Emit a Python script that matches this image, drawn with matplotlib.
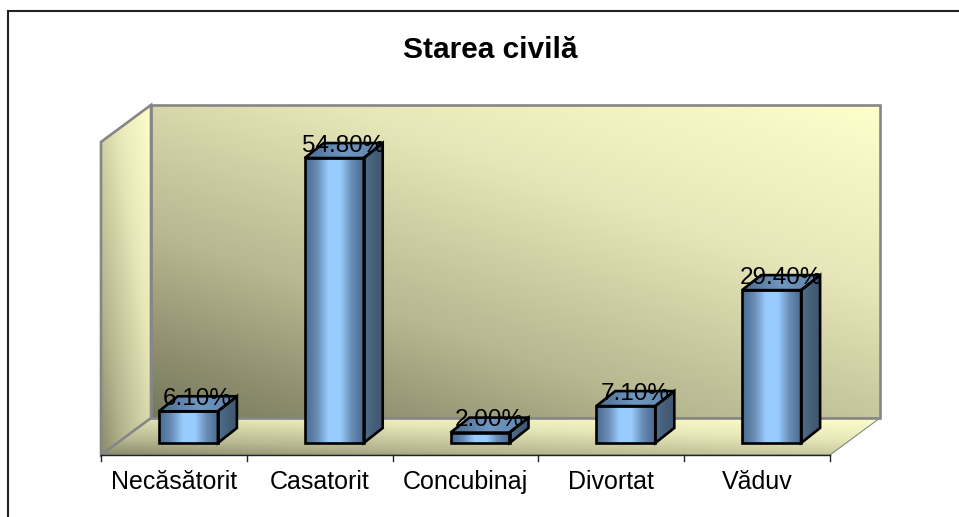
import numpy as np
import matplotlib
matplotlib.use("Agg")
import matplotlib.pyplot as plt
from matplotlib.colors import LinearSegmentedColormap
from matplotlib.patches import Polygon

categories = ["Necăsătorit", "Casatorit", "Concubinaj", "Divortat", "Văduv"]
values = [6.1, 54.8, 2.0, 7.1, 29.4]
value_labels = ["6.10%", "54.80%", "2.00%", "7.10%", "29.40%"]
title = "Starea civilă"

W, H = 959, 517
# one category is 145.8 px wide, one percent is 5.2 px tall
x_unit, y_unit = 145.8, 5.2
x0_px, y0_px = 101, 455

plt.rcParams['font.family'] = ['Liberation Sans', 'DejaVu Sans']

fig = plt.figure(figsize=(W / 100, H / 100), dpi=100)
ax = fig.add_axes([0, 0, 1, 1])
ax.set_xlim(-x0_px / x_unit, (W - x0_px) / x_unit)
ax.set_ylim((y0_px - H) / y_unit, y0_px / y_unit)
ax.axis("off")

n = len(categories)
wall_h = 60.2          # axis height in percent
dx, dy = 50 / x_unit, 37 / y_unit    # chart depth
bdx, bdy = 19 / x_unit, 15 / y_unit  # bar depth
bar_w = 59 / x_unit
bar_x = 14.5 / x_unit   # shift of the bars from the tick centre
bar_y = 12 / y_unit     # bars stand a bit behind the front edge

wall_cmap = LinearSegmentedColormap.from_list("wall", ["#77775c", "#b8b891", "#e6e6b8", "#ffffcc"])
bar_cmap = LinearSegmentedColormap.from_list(
    "bar", ["#496a8f", "#688cb5", "#99ccff", "#99ccff", "#688cb5", "#496a8f"])
side_cmap = LinearSegmentedColormap.from_list("side", ["#4f6e8e", "#466078", "#3f5670"])
top_cmap = LinearSegmentedColormap.from_list("top", ["#4d6c8f", "#6f97c2", "#5f83aa"])


def gradient_poly(pts, cmap, angle=0.0, lim=(0, 1), zorder=1):
    # fill a polygon with a linear gradient, angle in degrees (0 = left to right, 90 = bottom to top)
    pts = np.array(pts)
    xs, ys = pts[:, 0], pts[:, 1]
    ext = [xs.min(), xs.max(), ys.min(), ys.max()]
    u, v = np.meshgrid(np.linspace(0, 1, 120), np.linspace(0, 1, 120))
    a = np.radians(angle)
    g = u * np.cos(a) + v * np.sin(a)
    g = (g - g.min()) / (g.max() - g.min())
    g = lim[0] + g * (lim[1] - lim[0])
    im = ax.imshow(g, cmap=cmap, vmin=0, vmax=1, extent=ext, origin="lower",
                   aspect="auto", zorder=zorder, interpolation="bilinear")
    clip = Polygon(pts, closed=True, transform=ax.transData)
    im.set_clip_path(clip)


# back wall, side wall, floor
back = [(dx, dy), (n * 1.0 + dx, dy), (n * 1.0 + dx, dy + wall_h), (dx, dy + wall_h)]
side = [(0, 0), (dx, dy), (dx, dy + wall_h), (0, wall_h)]
floor = [(0, 0), (n * 1.0, 0), (n * 1.0 + dx, dy), (dx, dy)]
gradient_poly(floor, wall_cmap, angle=55, lim=(0.1, 1))
gradient_poly(back, wall_cmap, angle=52)
gradient_poly(side, wall_cmap, angle=45, lim=(0.1, 1))
grey = "#868686"
ax.add_patch(Polygon(floor, closed=True, fill=False, edgecolor=grey, linewidth=0.8, zorder=2))
for poly in (back, side):
    ax.add_patch(Polygon(poly, closed=True, fill=False, edgecolor=grey, linewidth=1.9, zorder=2))

# category axis and ticks
ax.plot([0, n], [0, 0], color="#222222", linewidth=1.0, zorder=3)
for i in range(n + 1):
    ax.plot([i, i], [0, -6 / y_unit], color="#222222", linewidth=1.0, zorder=3)

for i, (cat, val, lab) in enumerate(zip(categories, values, value_labels)):
    left = i + 0.5 - bar_w / 2 + bar_x
    right = left + bar_w
    base = bar_y
    top = base + val
    front = [(left, base), (right, base), (right, top), (left, top)]
    rside = [(right, base), (right + bdx, base + bdy), (right + bdx, top + bdy), (right, top)]
    rtop = [(left, top), (right, top), (right + bdx, top + bdy), (left + bdx, top + bdy)]
    gradient_poly(rside, side_cmap, zorder=4)
    gradient_poly(rtop, top_cmap, zorder=4)
    gradient_poly(front, bar_cmap, zorder=4)
    for poly in (rside, rtop, front):
        ax.add_patch(Polygon(poly, closed=True, fill=False, edgecolor="black",
                             linewidth=1.9, joinstyle="miter", zorder=5))
    ax.text(left + bar_w / 2 + 9 / x_unit, top + 6.5 / y_unit, lab,
            ha="center", va="baseline", fontsize=17.5, color="black", zorder=6)
    ax.text(i + 0.5, -34 / y_unit, cat, ha="center", va="baseline", fontsize=18, color="black", zorder=6)

ax.text((490.5 - x0_px) / x_unit, (y0_px - 58) / y_unit, title, ha="center", va="baseline",
        fontsize=21.5, fontweight="bold", color="black")

# outer frame, only top and left are inside the picture
ax.plot([(W - x0_px) / x_unit, (8 - x0_px) / x_unit, (8 - x0_px) / x_unit],
        [(y0_px - 10.5) / y_unit, (y0_px - 10.5) / y_unit, (y0_px - H) / y_unit],
        color="#222222", linewidth=1.5, zorder=7, solid_joinstyle="miter")

ax.set_xlim(-x0_px / x_unit, (W - x0_px) / x_unit)
ax.set_ylim((y0_px - H) / y_unit, y0_px / y_unit)
fig.savefig("out.png", dpi=100)
